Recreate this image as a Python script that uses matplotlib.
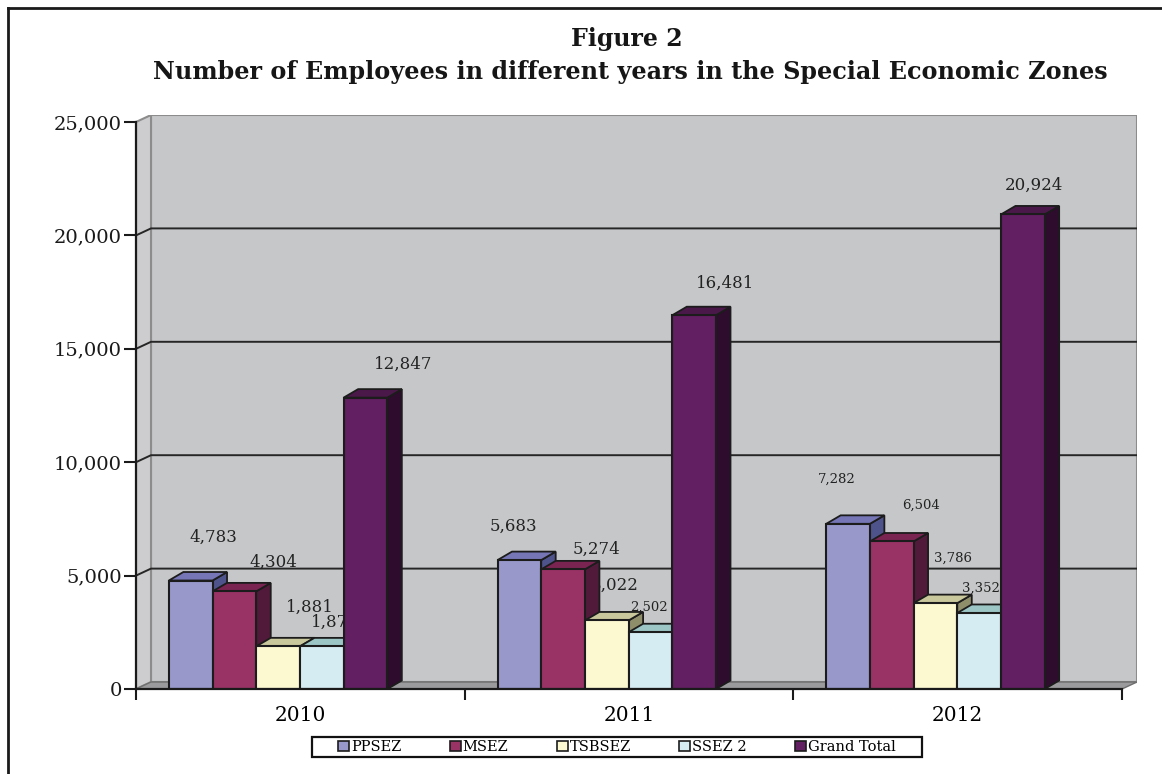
import numpy as np
import matplotlib.pyplot as plt
from matplotlib.patches import Polygon, Patch, Rectangle
from matplotlib.lines import Line2D

# employees per zone and year
years = ['2010', '2011', '2012']
zones = ['PPSEZ', 'MSEZ', 'TSBSEZ', 'SSEZ 2', 'Grand Total']
ppsez = [4783, 5683, 7282]
msez = [4304, 5274, 6504]
tsbsez = [1881, 3022, 3786]
ssez2 = [1879, 2502, 3352]
grand_total = [12847, 16481, 20924]
yticks = [0, 5000, 10000, 15000, 20000, 25000]

series = [ppsez, msez, tsbsez, ssez2, grand_total]

# front / top / side shading of each series
front_cols = ['#9898cb', '#993366', '#fcf9d0', '#d5ecf3', '#621f61']
top_cols = ['#7676b6', '#7a2452', '#c9c79c', '#9cc6c6', '#4b184a']
side_cols = ['#4f538b', '#521a3a', '#8f8e6b', '#6e9a9c', '#2e0c2d']

# where each value label sits, offset from the bar's front top centre (points)
label_off = [
    [(16, 31), (28, 21), (23, 28), (9.5, 17), (27, 24)],
    [(-4, 24.5), (24, 14.5), (6, 25.5), (-1, 18), (22, 23)],
    [(-8, 32), (21, 26), (13, 32), (1, 18), (8, 21)],
]
label_size = [
    [12, 12, 12, 12, 12],
    [12, 12, 12, 9.5, 12],
    [9.5, 9.5, 9.5, 9.5, 12],
]

W, H = 1162, 774
fig = plt.figure(figsize=(W / 100, H / 100), dpi=100)
ax = fig.add_axes([136 / W, (H - 689) / H, 1001 / W, 574 / H])

px_x = 1001 / 3.0456          # pixels per category unit
px_y = 22.68 / 1000           # pixels per employee
wdx, wdy = 15 / px_x, 7 / px_y      # wall depth
bdx, bdy = 14.5 / px_x, 8.5 / px_y  # bar depth
bw = 43.7 / px_x
x0 = -131.5 / px_x

ax.set_xlim(-0.5, 2.5 + wdx)
ax.set_ylim(0, 25000 + wdy)
ax.set_facecolor('none')

wall = '#c6c7c9'
floor = '#9b9b9d'
# back wall, side wall and floor
ax.add_patch(Polygon([(-0.5 + wdx, wdy), (2.5 + wdx, wdy), (2.5 + wdx, 25000 + wdy),
                      (-0.5 + wdx, 25000 + wdy)], closed=True, fc=wall, ec='#8c8c8c',
                     lw=1.5, zorder=0))
ax.add_patch(Polygon([(-0.5, 0), (-0.5 + wdx, wdy), (-0.5 + wdx, 25000 + wdy),
                      (-0.5, 25000)], closed=True, fc='#cdcdcf', ec='#8c8c8c', lw=1.5,
                     zorder=0.5))
ax.add_patch(Polygon([(-0.5, 0), (2.5, 0), (2.5 + wdx, wdy), (-0.5 + wdx, wdy)],
                     closed=True, fc=floor, ec='#6e6e6e', lw=1, zorder=0.5))
for v in yticks[1:-1]:
    ax.plot([-0.5, -0.5 + wdx, 2.5 + wdx], [v, v + wdy, v + wdy], color='#262626',
            lw=1.4, zorder=1)

ec = '#1c1c1c'
for c in range(len(years)):
    for i, vals in enumerate(series):
        v = vals[c]
        left = c + x0 + i * bw
        right = left + bw
        z = 3 + i * 0.1
        ax.add_patch(Polygon([(right, 0), (right + bdx, bdy), (right + bdx, v + bdy), (right, v)],
                             closed=True, fc=side_cols[i], ec=ec, lw=1.3, zorder=z))
        ax.add_patch(Polygon([(left, v), (right, v), (right + bdx, v + bdy), (left + bdx, v + bdy)],
                             closed=True, fc=top_cols[i], ec=ec, lw=1.3, zorder=z))
        ax.bar(left, v, width=bw, align='edge', color=front_cols[i], edgecolor=ec,
               lw=1.5, zorder=z + 0.05)
        ox, oy = label_off[c][i]
        ax.annotate(f'{v:,}', (left + bw / 2, v), xytext=(ox, oy), textcoords='offset points',
                    ha='center', va='center', fontsize=label_size[c][i],
                    family='DejaVu Serif', color='#222222', zorder=2)

# axes lines and ticks
for s in ['top', 'right']:
    ax.spines[s].set_visible(False)
ax.spines['left'].set_bounds(0, 25000)
ax.spines['bottom'].set_bounds(-0.5, 2.5)
for s in ['left', 'bottom']:
    ax.spines[s].set_linewidth(1.6)
    ax.spines[s].set_color('#1a1a1a')
    ax.spines[s].set_zorder(6)

ax.set_yticks(yticks)
ax.set_yticklabels([f'{t:,}' for t in yticks], family='DejaVu Serif', fontsize=14)
ax.tick_params(axis='y', length=9, width=1.5, pad=1, colors='#1a1a1a')
ax.set_xticks([-0.5, 0.5, 1.5, 2.5])
ax.set_xticklabels([])
ax.set_xticks(range(len(years)), minor=True)
ax.set_xticklabels(years, minor=True, family='DejaVu Serif', fontsize=14.5)
ax.tick_params(axis='x', which='major', length=8, width=1.5, colors='#1a1a1a')
ax.tick_params(axis='x', which='minor', length=0, pad=12)

fig.text(627 / W, 1 - 39 / H, 'Figure 2', ha='center', va='center', fontsize=17,
         fontweight='bold', family='DejaVu Serif', color='#161616')
fig.text(630 / W, 1 - 72 / H,
         'Number of Employees in different years in the Special Economic Zones',
         ha='center', va='center', fontsize=17.2, fontweight='bold', family='DejaVu Serif',
         color='#161616')

# outer frame lines
fig.add_artist(Line2D([8 / W, 8 / W], [0, 1 - 8 / H], color='#1a1a1a', lw=2))
fig.add_artist(Line2D([8 / W, 1], [1 - 8 / H, 1 - 8 / H], color='#1a1a1a', lw=2))

# legend with a plain box around it
handles = [Patch(fc=front_cols[i], ec='#1c1c1c', lw=1.2) for i in range(len(zones))]
fig.legend(handles, zones, loc='center', bbox_to_anchor=(617 / W, 1 - 747 / H),
           ncol=5, frameon=False, handlelength=0.75, handleheight=0.75,
           handletextpad=0.15, columnspacing=3.3, borderpad=0,
           prop={'family': 'DejaVu Serif', 'size': 10.5})
fig.add_artist(Rectangle((312 / W, 1 - 757 / H), 610 / W, 20 / H, transform=fig.transFigure,
                         fill=False, ec='#111111', lw=1.6))

fig.savefig('out.png', dpi=100)
